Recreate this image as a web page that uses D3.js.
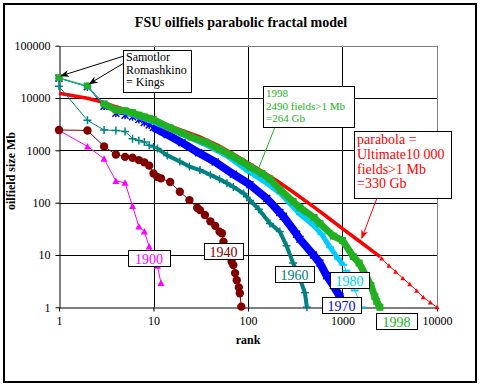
<!DOCTYPE html>
<html>
<head>
<meta charset="utf-8">
<script src="https://cdnjs.cloudflare.com/ajax/libs/d3/7.8.5/d3.min.js"></script>
<style>
    body { margin: 0; background: #fff; }
    svg text { font-family: "Liberation Serif", "Times New Roman", serif; }
</style>
</head>
<body>
<svg id="chart" width="482" height="388"></svg>
<script>
// ---- data (rank, oilfield size Mb) ----
var rankTicks = [1, 10, 100, 1000, 10000];
var sizeTicks = [1, 10, 100, 1000, 10000, 100000];

var ranks1900 = [1, 2, 3, 4, 5, 6, 7, 8, 9, 10, 11, 12];
var sizes1900 = [2400, 1190, 690, 260, 240, 86, 35, 28, 14.6, 9.6, 6.2, 2.9];

var ranks1940 = [1, 2, 3, 4, 5, 6, 7, 8, 9, 10, 11, 12, 15, 19, 24, 29, 31, 35, 40, 45, 50, 53, 55, 60, 67, 70, 73, 76, 80, 82, 85];
var sizes1940 = [2450, 2400, 1190, 830, 750, 720, 650, 590, 510, 360, 310, 292, 248, 162, 112, 80, 72, 58, 44, 36, 28, 26, 18, 12, 7.5, 6.4, 4.5, 3.3, 2.4, 1.85, 1.03];

var ranks1960 = [1, 2, 3, 4, 5, 6, 7, 8, 9, 10, 11, 14, 19, 24, 31, 40, 50, 60, 70, 90, 105, 130, 171, 217, 256, 300, 355, 400, 420];
var sizes1960 = [16700, 3750, 2450, 2400, 2300, 1670, 1550, 1440, 1250, 1160, 1080, 800, 610, 490, 420, 340, 280, 235, 200, 150, 110, 75, 40, 28, 15, 7, 3.5, 1.9, 1];

var ranks1970 = [1, 2, 3, 4, 5, 6, 7, 8, 9, 10, 14, 20, 30, 45, 70, 105, 158, 217, 236, 327, 355, 493, 577, 680, 800, 940, 1000];
var sizes1970 = [24000, 16500, 7000, 5100, 4700, 4400, 3900, 3400, 3050, 2750, 2000, 1400, 900, 600, 350, 220, 120, 65, 55, 25, 20, 10, 7, 4, 2.6, 1.6, 1.0];

var ranks1980 = [1, 2, 3, 5, 10, 20, 35, 60, 100, 150, 220, 355, 493, 600, 740, 900, 1020, 1100, 1350, 1600];
var sizes1980 = [24000, 16500, 7400, 5400, 3500, 2000, 1300, 780, 400, 250, 150, 60, 37, 25, 14, 8.5, 6.5, 5, 2.1, 1];

var ranks1998 = [1, 2, 3, 4, 5, 6, 7, 8, 9, 10, 15, 20, 25, 35, 50, 65, 85, 105, 140, 170, 220, 300, 355, 500, 577, 800, 1000, 1300, 1500, 1800, 2000, 2200, 2300, 2490];
var sizes1998 = [24400, 17000, 7700, 5900, 5700, 5250, 4700, 4350, 4100, 3860, 2700, 2150, 1800, 1450, 1050, 820, 620, 480, 360, 285, 175, 105, 80, 52, 40, 23, 19, 9.3, 7, 3.8, 2.6, 1.6, 1.3, 1.0];

var ranksParabola = [1, 2, 3, 4, 5, 7, 10, 15, 20, 30, 50, 70, 100, 150, 200, 300, 500, 700, 1000, 1500, 2000, 2500, 2600, 3100, 3650, 4350, 5150, 6100, 7150, 8500, 10000];
var sizesParabola = [12300, 9900, 8200, 6800, 6000, 4900, 3800, 2900, 2400, 1850, 1200, 850, 580, 370, 265, 160, 82, 52, 32, 18.5, 12.5, 9.3, 8.6, 6.2, 4.8, 3.6, 2.75, 2.08, 1.55, 1.24, 1.0];

var kingsText = ["Samotlor", "Romashkino", "= Kings"];
var text1998 = ["1998", "2490 fields>1 Mb", "=264 Gb"];
var parabolaText = ["parabola =", "Ultimate10 000", "fields>1 Mb", "=330 Gb"];

var svg = d3.select("#chart");

var x = d3.scaleLog().domain([1, 10000]).range([59, 437]);
var y = d3.scaleLog().domain([1, 100000]).range([307.3, 45.7]);

function px(v) { return Math.round(v) + 0.5; }

// outer frame
svg.append("rect")
    .attr("x", 4).attr("y", 4)
    .attr("width", 472).attr("height", 378)
    .attr("fill", "white")
    .attr("stroke", "black")
    .attr("stroke-width", 2);

// arrow heads
var defs = svg.append("defs");
["black", "red"].forEach(function (c) {
    defs.append("marker")
        .attr("id", "arrow-" + c)
        .attr("viewBox", "0 0 10 10")
        .attr("refX", 9).attr("refY", 5)
        .attr("markerWidth", 9).attr("markerHeight", 9)
        .attr("markerUnits", "userSpaceOnUse")
        .attr("orient", "auto")
        .append("path")
        .attr("d", "M0,1L10,5L0,9L3,5z")
        .attr("fill", c);
});

// title
svg.append("text")
    .attr("x", 241).attr("y", 27)
    .attr("text-anchor", "middle")
    .attr("font-size", 14)
    .attr("font-weight", "bold")
    .text("FSU oilfiels parabolic fractal model");

// grid
var grid = svg.append("g");
sizeTicks.slice(1, -1).forEach(function (v) {
    grid.append("line")
        .attr("x1", x(1)).attr("x2", x(10000))
        .attr("y1", px(y(v))).attr("y2", px(y(v)))
        .attr("stroke", "black");
});
rankTicks.slice(1, -1).forEach(function (r) {
    grid.append("line")
        .attr("x1", px(x(r))).attr("x2", px(x(r)))
        .attr("y1", y(100000)).attr("y2", y(1))
        .attr("stroke", "black");
});
grid.append("line")
    .attr("x1", x(1)).attr("x2", x(10000))
    .attr("y1", px(y(100000))).attr("y2", px(y(100000)))
    .attr("stroke", "#808080");
grid.append("line")
    .attr("x1", px(x(10000))).attr("x2", px(x(10000)))
    .attr("y1", y(100000)).attr("y2", y(1))
    .attr("stroke", "#808080");

// axes
var yAxis = svg.append("g")
    .attr("transform", "translate(" + px(x(1)) + ",0)")
    .call(d3.axisLeft(y).tickValues(sizeTicks).tickFormat(d3.format("d"))
        .tickSize(4).tickSizeOuter(0).tickPadding(5));
var xAxis = svg.append("g")
    .attr("transform", "translate(0," + px(y(1)) + ")")
    .call(d3.axisBottom(x).tickValues(rankTicks).tickFormat(d3.format("d"))
        .tickSize(4).tickSizeOuter(0).tickPadding(5));
[yAxis, xAxis].forEach(function (a) {
    a.attr("font-family", null).attr("font-size", null);
    a.selectAll("text").attr("font-size", 12).attr("fill", "black");
    a.selectAll("line, path").attr("stroke", "black");
});

svg.append("text")
    .attr("transform", "translate(15,171) rotate(-90)")
    .attr("text-anchor", "middle")
    .attr("font-size", 12)
    .attr("font-weight", "bold")
    .text("oilfield size Mb");
svg.append("text")
    .attr("x", 248).attr("y", 344)
    .attr("text-anchor", "middle")
    .attr("font-size", 12)
    .attr("font-weight", "bold")
    .text("rank");

// marker shapes
var markers = {
    triangle: { d: "M0,-3.5L3.5,3L-3.5,3z", fill: true, sw: 0 },
    smallTriangle: { d: "M0,-2.5L2.5,2L-2.5,2z", fill: true, sw: 0 },
    circle: { d: d3.symbol(d3.symbolCircle, 55)(), fill: true, sw: 0 },
    plus: { d: "M-4,0H4M0,-4V4", fill: false, sw: 1.5 },
    star: { d: "M-3.5,-3.5L3.5,3.5M-3.5,3.5L3.5,-3.5M0,-4V4", fill: false, sw: 1.5 },
    dash: { d: "M-4,0H4", fill: false, sw: 2 },
    square: { d: "M-3.5,-3.5H3.5V3.5H-3.5z", fill: true, sw: 0 }
};

function drawSeries(ranks, sizes, color, opts) {
    var g = svg.append("g");
    var pts = ranks.map(function (r, i) { return { r: r, p: [x(r), y(sizes[i])] }; });
    var line = d3.line();

    g.append("path")
        .attr("d", line(pts.map(function (d) { return d.p; })))
        .attr("fill", "none")
        .attr("stroke", color)
        .attr("stroke-width", 1);

    if (opts.band) {
        var bandPts = pts.filter(function (d) { return d.r >= opts.bandFrom && d.r <= opts.bandTo; });
        g.append("path")
            .attr("d", line(bandPts.map(function (d) { return d.p; })))
            .attr("fill", "none")
            .attr("stroke", color)
            .attr("stroke-width", opts.band)
            .attr("stroke-linejoin", "round")
            .attr("stroke-linecap", "butt");
    }

    var m = markers[opts.marker];
    g.selectAll(".mk")
        .data(pts.filter(function (d) { return d.r >= (opts.markFrom || 0); }))
        .enter().append("path")
        .attr("class", "mk")
        .attr("transform", function (d) { return "translate(" + d.p[0] + "," + d.p[1] + ")"; })
        .attr("d", m.d)
        .attr("fill", m.fill ? color : "none")
        .attr("stroke", m.fill ? "none" : color)
        .attr("stroke-width", m.sw);
}

drawSeries(ranksParabola, sizesParabola, "#ff0000", { band: 3.5, bandFrom: 1, bandTo: 2500, marker: "smallTriangle", markFrom: 2600 });
drawSeries(ranks1900, sizes1900, "#ff00ff", { marker: "triangle" });
drawSeries(ranks1940, sizes1940, "#800000", { marker: "circle" });
drawSeries(ranks1960, sizes1960, "#008080", { band: 4, bandFrom: 11, bandTo: 420, marker: "plus" });
drawSeries(ranks1970, sizes1970, "#0000ff", { band: 8, bandFrom: 10, bandTo: 1000, marker: "star" });
drawSeries(ranks1980, sizes1980, "#00ccff", { band: 5, bandFrom: 3, bandTo: 1020, marker: "dash" });
drawSeries(ranks1998, sizes1998, "#22b022", { band: 7, bandFrom: 3, bandTo: 2490, marker: "square" });

// callouts
function textBox(bx, by, w, h, lines, color, size, lineH, anchor) {
    var g = svg.append("g");
    g.append("rect")
        .attr("x", bx + 0.5).attr("y", by + 0.5)
        .attr("width", w).attr("height", h)
        .attr("fill", "white")
        .attr("stroke", "black");
    lines.forEach(function (t, i) {
        g.append("text")
            .attr("x", anchor === "middle" ? bx + w / 2 : bx + 3)
            .attr("y", by + lineH * (i + 1) - (lineH - size) / 2 - 1)
            .attr("text-anchor", anchor)
            .attr("font-size", size)
            .attr("fill", color)
            .text(t);
    });
}

function leader(x1, y1, x2, y2, color, arrow) {
    var l = svg.append("line")
        .attr("x1", x1).attr("y1", y1)
        .attr("x2", x2).attr("y2", y2)
        .attr("stroke", color);
    if (arrow) l.attr("marker-end", "url(#arrow-" + arrow + ")");
}

leader(124, 56, x(1) + 2, y(26500), "black", "black");
leader(124, 63, x(2) + 2, y(18800), "black", "black");
textBox(123, 50, 68, 42, kingsText, "black", 12, 12.5, "start");

leader(275, 127, x(130), y(460), "#22b022");
textBox(263, 86, 91, 41, text1998, "#22b022", 11, 12.7, "start");

leader(377, 198, x(1600), y(21), "red", "red");
textBox(354, 131, 97, 67, parabolaText, "red", 14, 14.7, "start");

textBox(128, 250, 42, 16, ["1900"], "#ff00ff", 14, 16, "middle");
textBox(204, 243, 39, 16, ["1940"], "#800000", 14, 16, "middle");
textBox(275, 266, 39, 16, ["1960"], "#008080", 14, 16, "middle");
textBox(322, 297, 39, 16, ["1970"], "#0000ff", 14, 16, "middle");
textBox(330, 272, 39, 16, ["1980"], "#00ccff", 14, 16, "middle");
textBox(376, 313, 41, 16, ["1998"], "#22b022", 14, 16, "middle");
</script>
</body>
</html>
